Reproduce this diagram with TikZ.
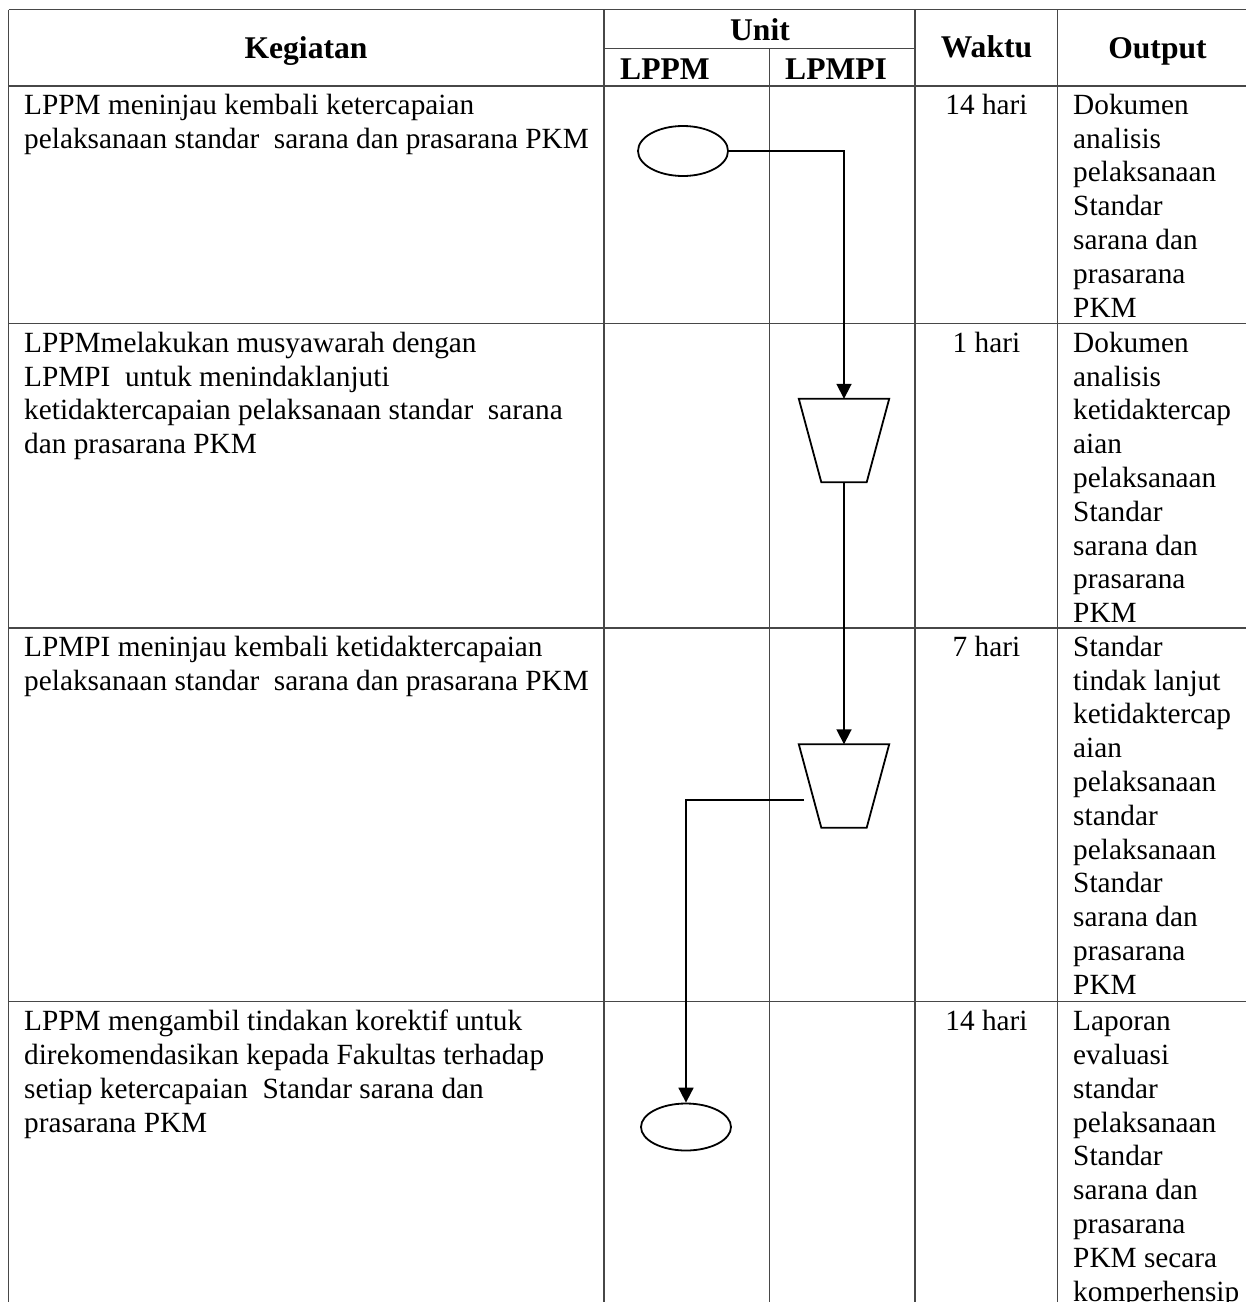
\documentclass[tikz,border=0pt]{standalone}
\usepackage{fontspec}
\setmainfont{Liberation Serif}
\usetikzlibrary{shapes.geometric,arrows.meta}
\newcommand\lineup{\rule{0pt}{24pt}}
\begin{document}
\begin{tikzpicture}[x=1pt,y=-1pt,
  rule/.style={draw=black!72, line width=1.5pt},
  flow/.style={draw=black, line width=1.8pt},
  arr/.style={flow, -{Triangle[width=15pt,length=15pt]}},
  term/.style={ellipse, draw=black, line width=1.8pt, minimum width=90pt, minimum height=50pt, inner sep=0pt},
  mergebox/.style={rectangle, minimum width=90pt, minimum height=83pt, inner sep=0pt},
  txt/.style={font=\fontsize{29.3}{33.8}\selectfont, inner sep=0pt, align=left, anchor=north west},
  head/.style={font=\fontsize{31.6}{36}\selectfont\bfseries, inner sep=0pt, anchor=base},
  days/.style={font=\fontsize{29.3}{33.8}\selectfont, inner sep=0pt, anchor=base},
]
\useasboundingbox[fill=white] (0,0) rectangle (1246,1302);

% table rules
\draw[rule] (8.5,9.5) -- (1246,9.5);
\draw[rule] (604,48.3) -- (915,48.3);
\draw[rule] (8.5,86) -- (1246,86);
\draw[rule] (8.5,323.3) -- (1246,323.3);
\draw[rule] (8.5,628) -- (1246,628);
\draw[rule] (8.5,1001.7) -- (1246,1001.7);
\draw[rule] (8.5,9.5) -- (8.5,1302);
\draw[rule] (604,9.5) -- (604,1302);
\draw[rule] (769.3,48.3) -- (769.3,1302);
\draw[rule] (915,9.5) -- (915,1302);
\draw[rule] (1057.7,9.5) -- (1057.7,1302);

% header
\node[head] (hk) at (306,58) {Kegiatan};
\node[head] (hu) at (760,40.5) {Unit};
\node[head, anchor=base west] (hl1) at (620,79) {LPPM};
\node[head, anchor=base west] (hl2) at (785,79) {LPMPI};
\node[head] (hw) at (986.5,57) {Waktu};
\node[head] (ho) at (1157.5,58) {Output};

% row 1
\node[txt] (k1) at (24,90) {\lineup LPPM meninjau kembali ketercapaian\\pelaksanaan standar~~sarana dan prasarana PKM};
\node[days] (w1) at (986.5,114) {14 hari};
\node[txt] (o1) at (1073,90) {\lineup Dokumen\\analisis\\pelaksanaan\\Standar\\sarana dan\\prasarana\\PKM};

% row 2
\node[txt] (k2) at (24,328) {\lineup LPPMmelakukan musyawarah dengan\\LPMPI~~untuk menindaklanjuti\\ketidaktercapaian pelaksanaan standar~~sarana\\dan prasarana PKM};
\node[days] (w2) at (986.5,352) {1 hari};
\node[txt] (o2) at (1073,328) {\lineup Dokumen\\analisis\\ketidaktercap\\aian\\pelaksanaan\\Standar\\sarana dan\\prasarana\\PKM};

% row 3
\node[txt] (k3) at (24,632) {\lineup LPMPI meninjau kembali ketidaktercapaian\\pelaksanaan standar~~sarana dan prasarana PKM};
\node[days] (w3) at (986.5,656) {7 hari};
\node[txt] (o3) at (1073,632) {\lineup Standar\\tindak lanjut\\ketidaktercap\\aian\\pelaksanaan\\standar\\pelaksanaan\\Standar\\sarana dan\\prasarana\\PKM};

% row 4
\node[txt] (k4) at (24,1006.5) {\lineup LPPM mengambil tindakan korektif untuk\\direkomendasikan kepada Fakultas terhadap\\setiap ketercapaian~~Standar sarana dan\\prasarana PKM};
\node[days] (w4) at (986.5,1030.5) {14 hari};
\node[txt] (o4) at (1073,1006.5) {\lineup Laporan\\evaluasi\\standar\\pelaksanaan\\Standar\\sarana dan\\prasarana\\PKM secara\\komperhensip};

% flow symbols: terminators and inverted trapezoids (merge)
\node[term] (s1) at (683,151) {};
\node[mergebox] (m1) at (844,440.5) {};
\node[mergebox] (m2) at (844,786) {};
\node[term, minimum height=47pt] (e1) at (686,1127) {};
\foreach \m in {m1,m2}
  \draw[flow, line join=miter] (\m.north west) -- (\m.north east)
    -- ([xshift=-22.5pt]\m.south east) -- ([xshift=22.5pt]\m.south west) -- cycle;
\coordinate (m2out) at (804,800);

% connectors
\draw[arr] (s1.east) -| (m1.north);
\draw[arr] (m1.south) -- (m2.north);
\draw[arr] (m2out) -| (e1.north);
\end{tikzpicture}
\end{document}
